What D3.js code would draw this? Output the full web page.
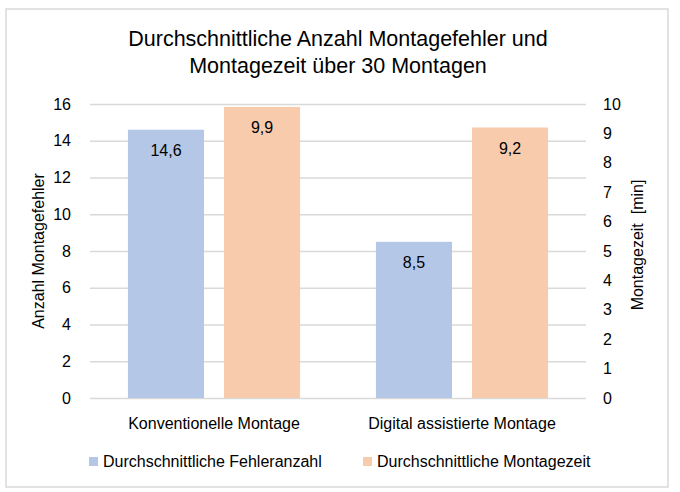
<!DOCTYPE html>
<html>
<head>
<meta charset="utf-8">
<script src="https://cdn.jsdelivr.net/npm/d3@7"></script>
<style>
  body { margin: 0; background: #fff; }
  svg text { font-family: "Liberation Sans", Arial, sans-serif; fill: #000; }
</style>
</head>
<body>
<svg id="chart" width="680" height="492"></svg>
<script>
// Chart data
var categories = ["Konventionelle Montage", "Digital assistierte Montage"];
var seriesNames = ["Durchschnittliche Fehleranzahl", "Durchschnittliche Montagezeit"];
var fehlerValues = [14.6, 8.5];   // left axis
var zeitValues = [9.9, 9.2];      // right axis
var leftTicks = [0, 2, 4, 6, 8, 10, 12, 14, 16];
var rightTicks = [0, 1, 2, 3, 4, 5, 6, 7, 8, 9, 10];
var colors = ["#b4c7e7", "#f8cbad"];

var svg = d3.select("#chart");

// outer frame
svg.append("rect")
    .attr("x", 6).attr("y", 9)
    .attr("width", 662).attr("height", 478)
    .attr("fill", "#fff")
    .attr("stroke", "#d9d9d9")
    .attr("stroke-width", 1.5);

var plotLeft = 90, plotRight = 586, plotTop = 104, plotBottom = 398;

var x0 = d3.scaleBand()
    .domain(categories)
    .range([plotLeft, plotRight])
    .paddingInner(0.306)
    .paddingOuter(0.153);

var x1 = d3.scaleBand()
    .domain(seriesNames)
    .range([0, x0.bandwidth()])
    .paddingInner(0.2083);

var yLeft = d3.scaleLinear().domain([0, 16]).range([plotBottom, plotTop]);
var yRight = d3.scaleLinear().domain([0, 10]).range([plotBottom, plotTop]);

// gridlines
svg.append("g")
    .attr("class", "grid")
    .attr("transform", "translate(" + plotLeft + ",0)")
    .call(d3.axisLeft(yLeft).tickValues(leftTicks).tickSize(-(plotRight - plotLeft)).tickFormat(""))
    .call(function(g) { g.select(".domain").remove(); })
    .selectAll("line")
    .attr("stroke", "#d9d9d9")
    .attr("stroke-width", 1.5);

// left axis labels
var axL = svg.append("g")
    .attr("transform", "translate(" + plotLeft + ",0)")
    .call(d3.axisLeft(yLeft).tickValues(leftTicks).tickSize(0).tickPadding(19));
axL.select(".domain").remove();
axL.selectAll("text").style("font-size", "16px").attr("fill", "#000");

// right axis labels
var axR = svg.append("g")
    .attr("transform", "translate(" + plotRight + ",0)")
    .call(d3.axisRight(yRight).tickValues(rightTicks).tickSize(0).tickPadding(17));
axR.select(".domain").remove();
axR.selectAll("text").style("font-size", "16px").attr("fill", "#000");

// bars
var rows = categories.map(function(c, i) {
    return [
        { cat: c, series: seriesNames[0], value: fehlerValues[i], y: yLeft },
        { cat: c, series: seriesNames[1], value: zeitValues[i], y: yRight }
    ];
});

var groups = svg.selectAll(".group")
    .data(rows)
    .enter().append("g")
    .attr("class", "group")
    .attr("transform", function(d, i) { return "translate(" + x0(categories[i]) + ",0)"; });

groups.selectAll("rect")
    .data(function(d) { return d; })
    .enter().append("rect")
    .attr("x", function(d) { return x1(d.series); })
    .attr("y", function(d) { return d.y(d.value); })
    .attr("width", x1.bandwidth())
    .attr("height", function(d) { return plotBottom - d.y(d.value); })
    .attr("fill", function(d, i) { return colors[i]; });

groups.selectAll(".val")
    .data(function(d) { return d; })
    .enter().append("text")
    .attr("class", "val")
    .attr("x", function(d) { return x1(d.series) + x1.bandwidth() / 2; })
    .attr("y", function(d) { return d.y(d.value) + 26; })
    .attr("text-anchor", "middle")
    .style("font-size", "16px")
    .text(function(d) { return String(d.value).replace(".", ","); });

// category labels
svg.selectAll(".cat")
    .data(categories)
    .enter().append("text")
    .attr("class", "cat")
    .attr("x", function(d) { return x0(d) + x0.bandwidth() / 2; })
    .attr("y", 429)
    .attr("text-anchor", "middle")
    .style("font-size", "16px")
    .text(function(d) { return d; });

// title
var title = svg.append("text")
    .attr("x", 338)
    .attr("text-anchor", "middle")
    .style("font-size", "21.5px");
title.append("tspan").attr("x", 338).attr("y", 46).text("Durchschnittliche Anzahl Montagefehler und");
title.append("tspan").attr("x", 338).attr("y", 73).text("Montagezeit über 30 Montagen");

// axis titles
svg.append("text")
    .attr("transform", "translate(44,251) rotate(-90)")
    .attr("text-anchor", "middle")
    .style("font-size", "16px")
    .text("Anzahl Montagefehler");

svg.append("text")
    .attr("transform", "translate(643,245) rotate(-90)")
    .attr("text-anchor", "middle")
    .style("font-size", "16px")
    .style("white-space", "pre")
    .text("Montagezeit  [min]");

// legend
var legendX = [89, 363];
var legend = svg.selectAll(".legend")
    .data(seriesNames)
    .enter().append("g")
    .attr("class", "legend")
    .attr("transform", function(d, i) { return "translate(" + legendX[i] + ",457)"; });

legend.append("rect")
    .attr("width", 9).attr("height", 9)
    .attr("fill", function(d, i) { return colors[i]; });

legend.append("text")
    .attr("x", 14)
    .attr("y", 10)
    .style("font-size", "16px")
    .text(function(d) { return d; });
</script>
</body>
</html>
